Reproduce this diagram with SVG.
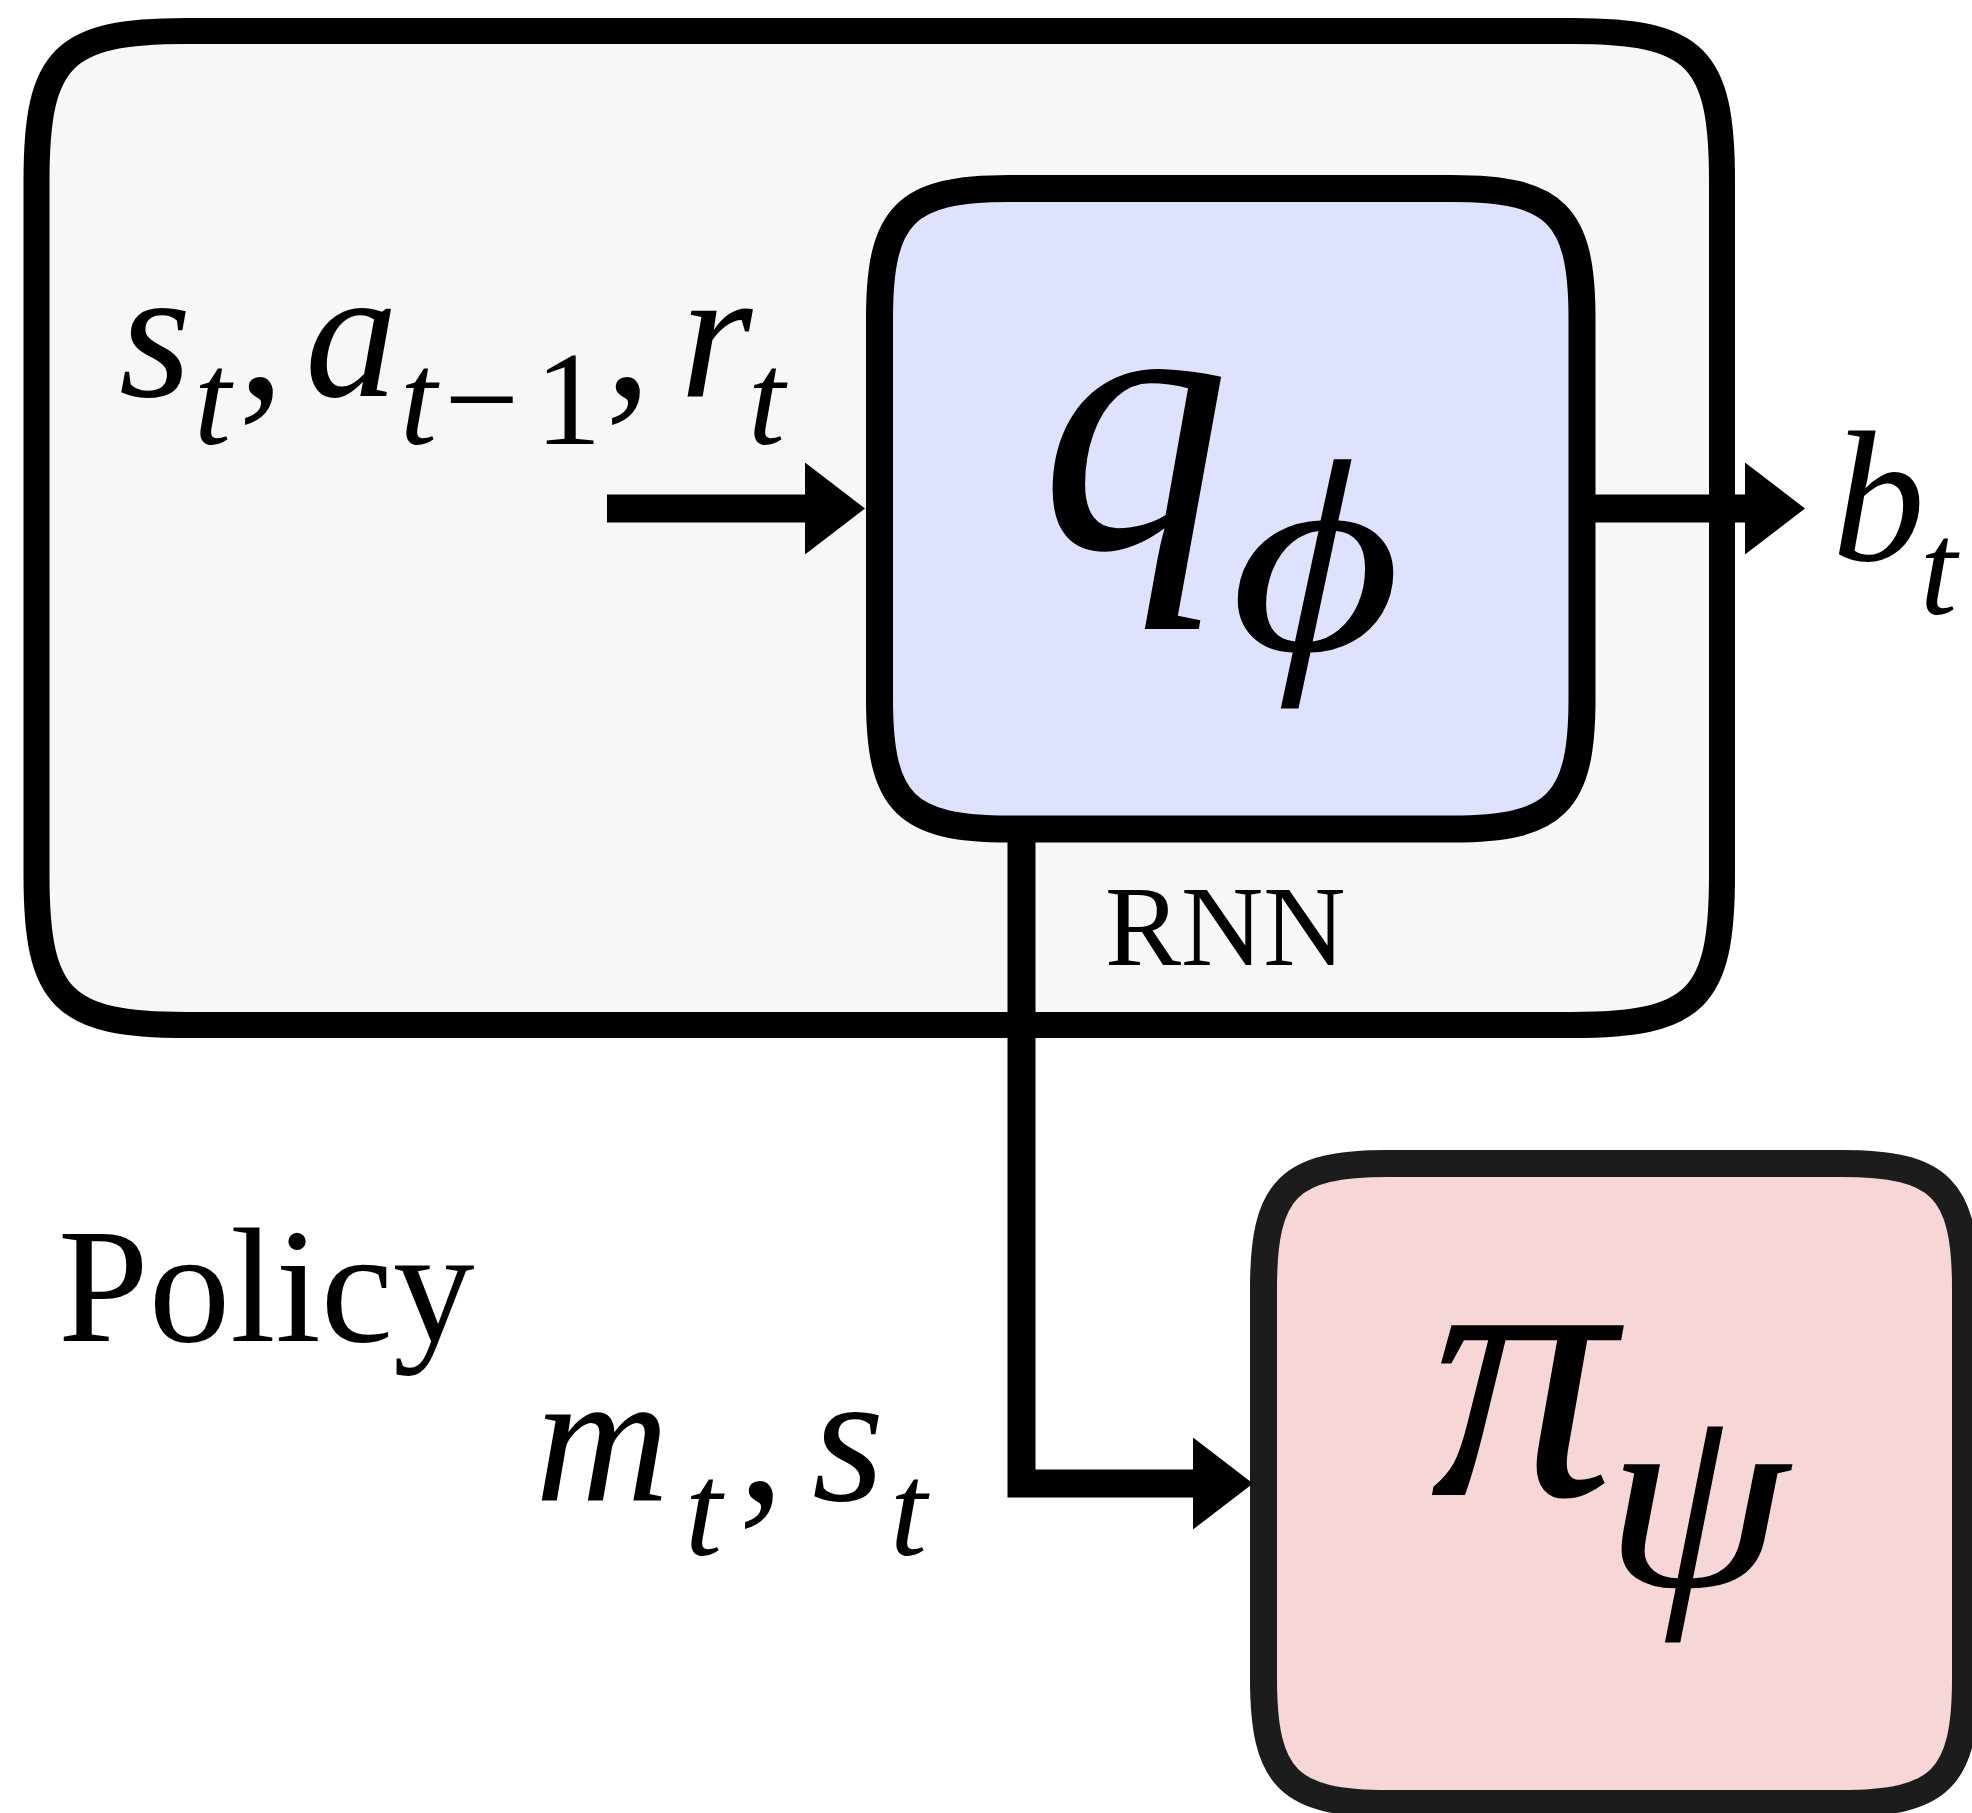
<svg xmlns="http://www.w3.org/2000/svg" width="1972" height="1813" viewBox="0 0 1972 1813">
<style>
.box{stroke-width:26;stroke-linejoin:round}
.outer{fill:#F7F7F9;stroke:#000}
.inner{fill:#DEE2FD;stroke:#000;stroke-width:27}
.pi{fill:#F6D6D6;stroke:#1C1C1C;stroke-width:27}
.conn{fill:none;stroke:#000;stroke-width:28;stroke-linejoin:miter;stroke-linecap:butt}
.m{font-family:"Liberation Serif",serif;font-style:italic;fill:#000}
.r{font-family:"Liberation Serif",serif;font-style:normal;fill:#000}
</style>
<defs>
<marker id="ah" markerUnits="userSpaceOnUse" markerWidth="60" markerHeight="92" viewBox="0 0 60 92" refX="1" refY="46" orient="auto">
<path d="M0,0 L60,46 L0,92 Z" fill="#000"/>
</marker>
</defs>
<rect width="1972" height="1813" fill="#fff"/>
<g id="encoder-group">
<path class="box outer" d="M186.5,31 H1572 C1696,31 1722,57 1722,181 V875 C1722,999 1696,1025 1572,1025 H186.5 C62.5,1025 36.5,999 36.5,875 V181 C36.5,57 62.5,31 186.5,31 Z"/>
<text class="r" x="58" y="1341" font-size="163">Policy</text>
</g>
<g id="q-phi">
<path class="box inner" d="M1009.5,188.5 H1452 C1556,188.5 1582,214.5 1582,318.5 V699 C1582,803 1556,829 1452,829 H1009.5 C905.5,829 879.5,803 879.5,699 V318.5 C879.5,214.5 905.5,188.5 1009.5,188.5 Z"/>
<text class="m" x="1040" y="548" font-size="380">q</text>
<text class="m" x="1232" y="650" font-size="275" transform="translate(1241 0) scale(1.2 1) translate(-1241 0)">ϕ</text>
<text class="r" x="1105" y="965" font-size="114">RNN</text>
</g>
<g id="pi-psi">
<path class="box pi" d="M1388.5,1163.5 H1840.5 C1940.5,1163.5 1965.5,1188.5 1965.5,1288.5 V1678.5 C1965.5,1778.5 1940.5,1803.5 1840.5,1803.5 H1388.5 C1288.5,1803.5 1263.5,1778.5 1263.5,1678.5 V1288.5 C1263.5,1188.5 1288.5,1163.5 1388.5,1163.5 Z"/>
<text class="m" x="1430" y="1495" font-size="370">π</text>
<text class="m" x="1605" y="1586" font-size="265" transform="translate(1614 0) scale(1.12 1) translate(-1614 0)">ψ</text>
</g>
<g id="connectors">
<path class="conn" d="M607,508.5 H806" marker-end="url(#ah)"/>
<path class="conn" d="M1582,508.5 H1746" marker-end="url(#ah)"/>
<path class="conn" d="M1021.5,829 V1483.5 H1194" marker-end="url(#ah)"/>
</g>
<g id="labels">
<text font-size="186"><tspan class="m" x="119" y="396">s</tspan><tspan class="m" x="194" y="444" font-size="133">t</tspan><tspan class="r" x="238" y="396">,</tspan><tspan class="m" x="305" y="396">a</tspan><tspan class="m" x="400" y="444" font-size="133">t</tspan><tspan class="r" x="444" y="444" font-size="133">−</tspan><tspan class="r" x="535" y="444" font-size="133">1</tspan><tspan class="r" x="605" y="396">,</tspan><tspan class="m" x="680" y="396">r</tspan><tspan class="m" x="748" y="444" font-size="133">t</tspan></text>
<text font-size="186"><tspan class="m" x="1832" y="560">b</tspan><tspan class="m" x="1920" y="614" font-size="133">t</tspan></text>
<text font-size="186"><tspan class="m" x="535" y="1500">m</tspan><tspan class="m" x="685" y="1555" font-size="133">t</tspan><tspan class="r" x="738" y="1500">,</tspan><tspan class="m" x="812" y="1500">s</tspan><tspan class="m" x="890" y="1555" font-size="133">t</tspan></text>
</g>
</svg>
